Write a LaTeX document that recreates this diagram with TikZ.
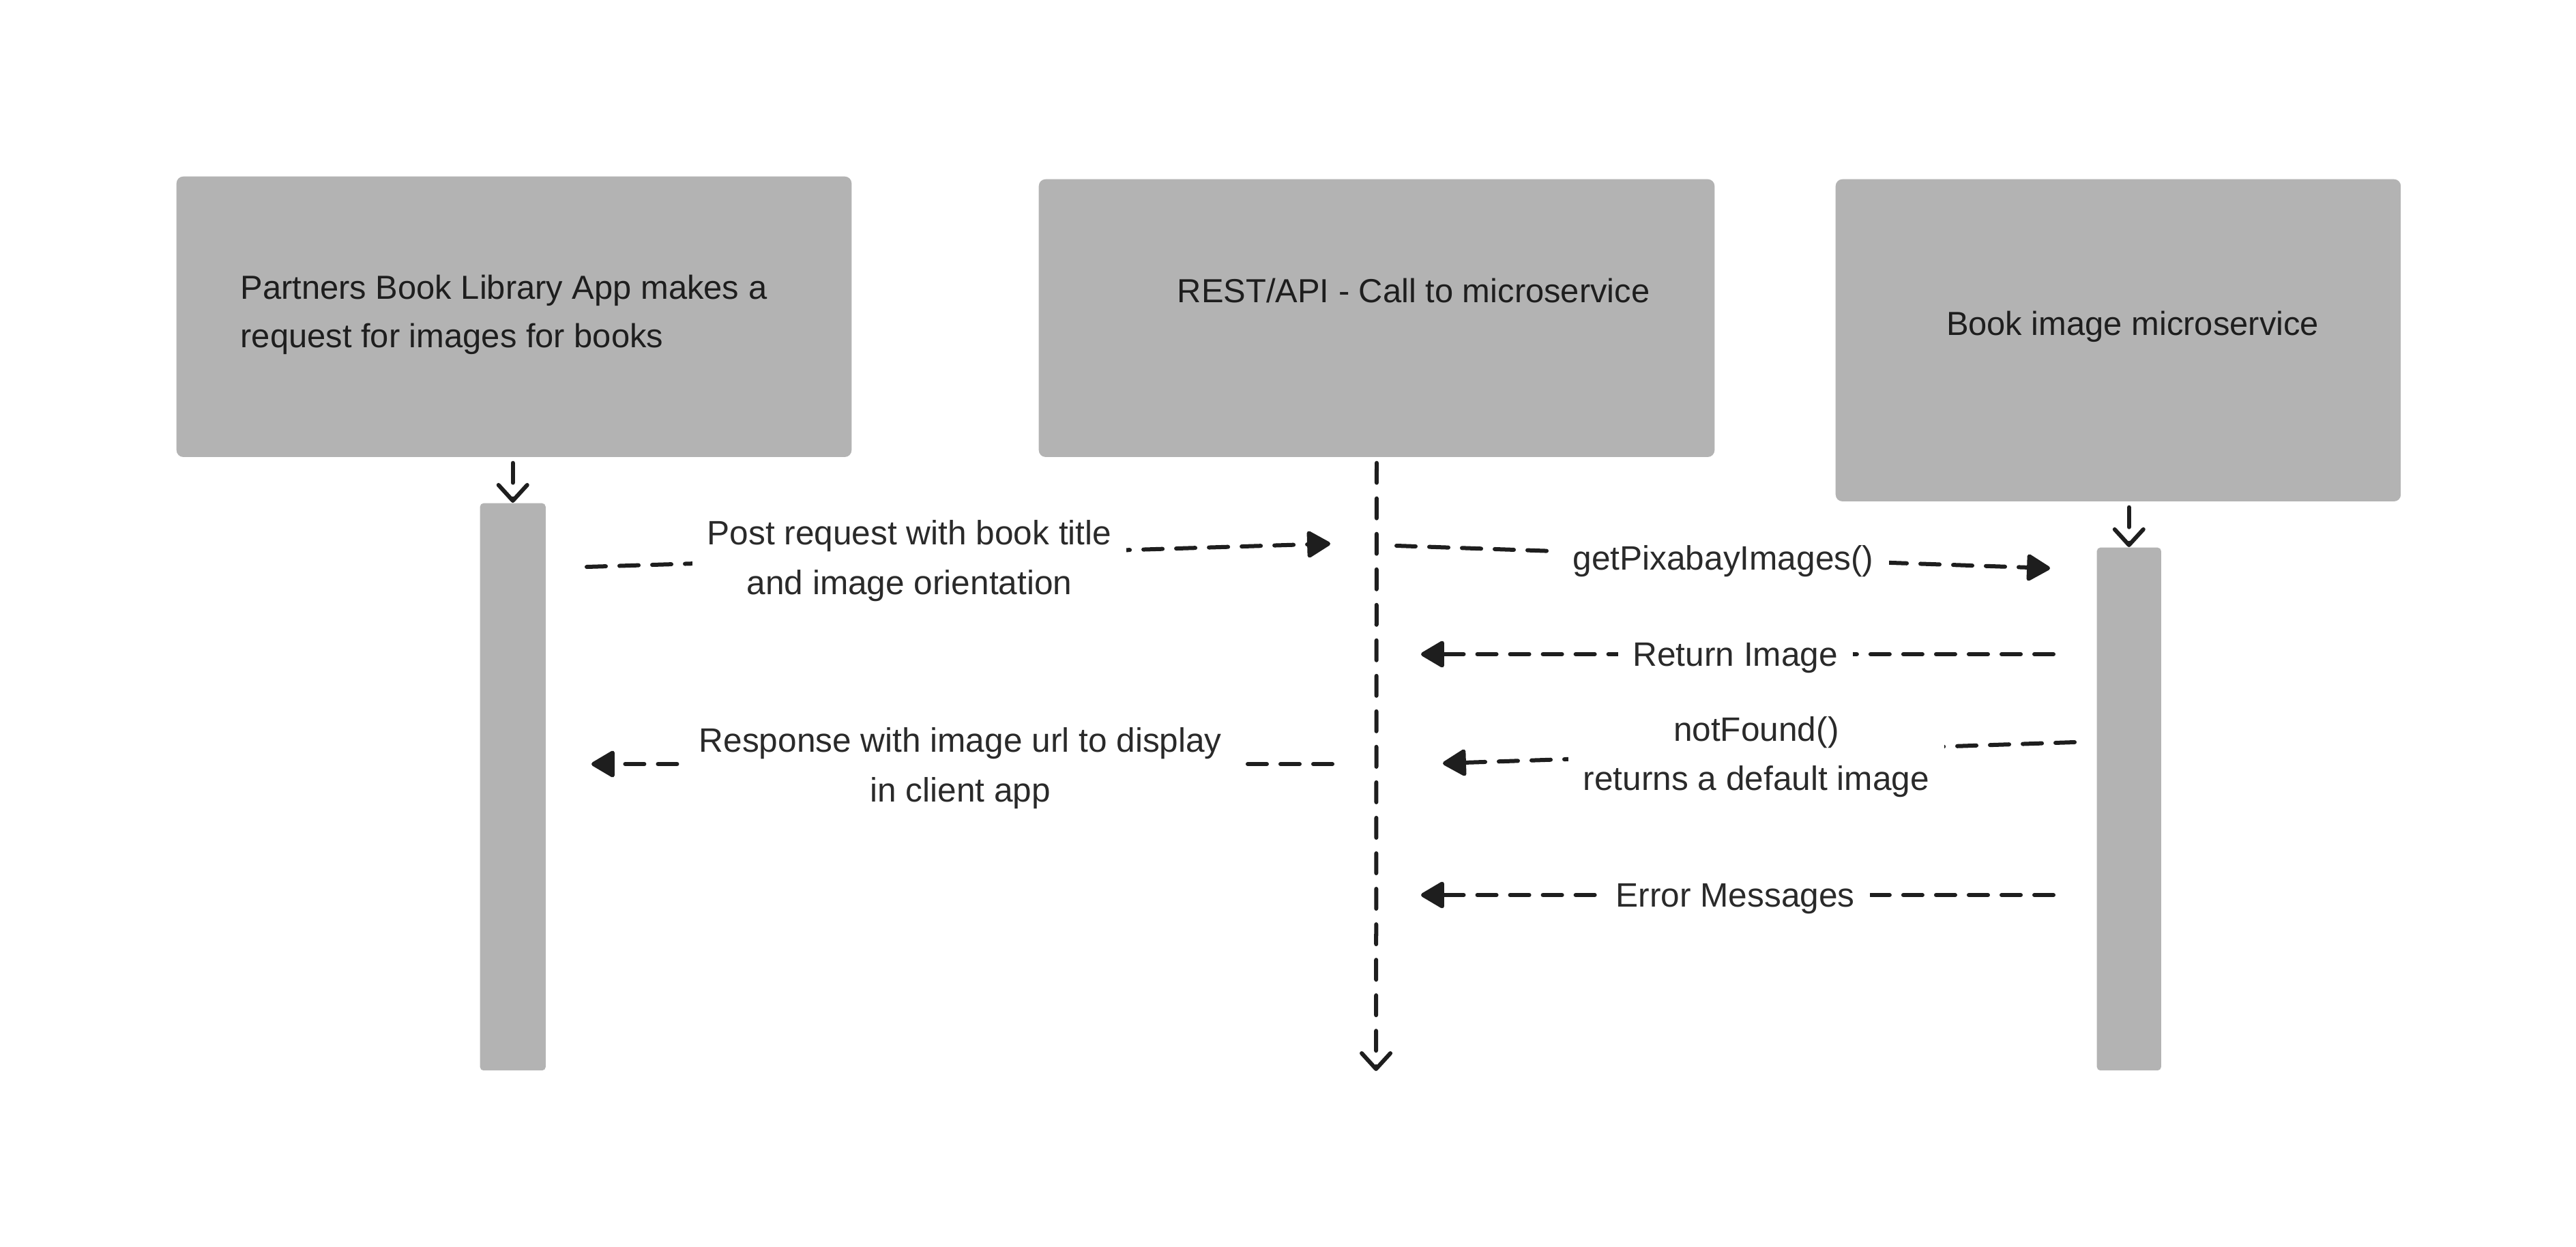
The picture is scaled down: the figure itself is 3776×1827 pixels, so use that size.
\documentclass[tikz,border=0pt]{standalone}
\usepackage{fontspec}
\setmainfont{Liberation Sans}
\usetikzlibrary{arrows.meta}
\definecolor{boxgray}{HTML}{B3B3B3}
\definecolor{ink}{HTML}{1E1E1E}
\definecolor{txt}{HTML}{2A2A2A}
\begin{document}
\begin{tikzpicture}[x=0.01cm,y=-0.01cm,
  actor/.style={fill=boxgray, draw=none, rounded corners=0.1cm, inner sep=0pt, anchor=north west},
  bar/.style={fill=boxgray, draw=none, rounded corners=0.05cm, inner sep=0pt, anchor=north west},
  boxtext/.style={text=ink, inner sep=0pt, align=left, yshift=-0.05cm, font=\fontsize{13.9}{20.2}\selectfont},
  life/.style={draw=ink, line width=0.06cm, line cap=round, dash pattern=on 0.29cm off 0.23cm,
    -{Straight Barb[length=0.23cm, width=0.42cm, line cap=round, line join=round]}},
  msg/.style={draw=ink, line width=0.06cm, line cap=round, dash pattern=on 0.28cm off 0.20cm,
    -{Triangle[length=0.37cm, width=0.42cm, round]}},
  lbl/.style={fill=white, text=txt, align=center, inner xsep=0.22cm, inner ysep=0.03cm,
    yshift=-0.06cm, font=\fontsize{14.1}{20.6}\selectfont}
]
\useasboundingbox (0,0) rectangle (3776,1827);

% participants
\node[actor, minimum width=9.89cm, minimum height=4.11cm] (b1) at (258,258) {};
\node[actor, minimum width=9.90cm, minimum height=4.07cm] (b2) at (1522,262) {};
\node[actor, minimum width=8.28cm, minimum height=4.72cm] (b3) at (2690,262) {};

\node[boxtext, anchor=west] (t1) at (352,456) {Partners Book Library App makes a\\request for images for books};
\node[boxtext] (t2) at (2072,421) {REST/API - Call to microservice};
\node[boxtext] (t3) at (3126,474) {Book image microservice};

% activation bars
\node[bar, minimum width=0.96cm, minimum height=8.31cm] (a1) at (703,737) {};
\node[bar, minimum width=0.94cm, minimum height=7.66cm] (a3) at (3073,802) {};

% creation arrows
\draw[life, shorten <=0.08cm] (a1.north |- b1.south) -- (a1.north);
\draw[life, shorten <=0.08cm] (a3.north |- b3.south) -- (a3.north);

% lifeline of REST/API
\coordinate (lend) at (2017,1570);
\draw[life, shorten <=0.08cm] (b2.south) -- (lend);

% messages
\coordinate (m1s) at (860,831);   \coordinate (m1e) at (1950,797);
\coordinate (m2s) at (2047,800);  \coordinate (m2e) at (3005,833);
\coordinate (m3s) at (3010,959);  \coordinate (m3e) at (2083,959);
\coordinate (m4s) at (3041,1088); \coordinate (m4e) at (2115,1119);
\coordinate (m5s) at (1953,1120); \coordinate (m5e) at (867,1120);
\coordinate (m6s) at (3010,1312); \coordinate (m6e) at (2083,1312);

\draw[msg] (m1s) -- node[lbl, pos=0.434] {Post request with book title\\and image orientation} (m1e);
\draw[msg] (m2s) -- node[lbl, pos=0.5] {getPixabayImages()} (m2e);
\draw[msg] (m3s) -- node[lbl, pos=0.503] {Return Image} (m3e);
\draw[msg] (m4s) -- node[lbl, pos=0.504] {notFound()\\returns a default image} (m4e);
\draw[msg] (m5s) -- node[lbl, pos=0.502] {Response with image url to display\\in client app} (m5e);
\draw[msg] (m6s) -- node[lbl, pos=0.503] {Error Messages} (m6e);
\end{tikzpicture}
\end{document}
